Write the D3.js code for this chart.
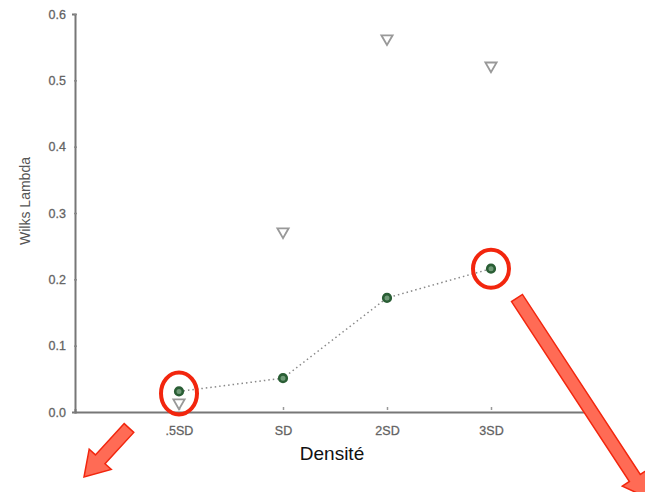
<!DOCTYPE html>
<html>
<head>
<meta charset="utf-8">
<script src="https://cdn.jsdelivr.net/npm/d3@7"></script>
<style>
  body { margin: 0; background: #fff; }
  svg { display: block; font-family: "Liberation Sans", Arial, sans-serif; }
</style>
</head>
<body>
<svg id="chart" width="645" height="492"></svg>
<script>
// data
const categories = [".5SD", "SD", "2SD", "3SD"];
const circleVals = [0.031, 0.051, 0.172, 0.216];
const triangleVals = [0.014, 0.272, 0.563, 0.522];
const yTicks = [0, 0.1, 0.2, 0.3, 0.4, 0.5, 0.6];
const highlighted = [0, 3];

// layout
const margin = {top: 14, right: 50, bottom: 80, left: 75};
const svg = d3.select("#chart");

const x = d3.scaleLinear().domain([0, 5]).range([margin.left, 595]);
const y = d3.scaleLinear().domain([0, 0.6]).range([412, 14]);

// y axis
const yAxis = d3.axisLeft(y).tickValues(yTicks).tickFormat(d3.format(".1f")).tickSize(3).tickPadding(6);
const gy = svg.append("g").attr("transform", `translate(${margin.left},0)`).call(yAxis);
gy.select(".domain").attr("stroke", "#777").attr("stroke-width", 2);
gy.selectAll(".tick line").attr("stroke", "#888").attr("stroke-width", 1.5).attr("transform", "translate(2,0)");
gy.selectAll(".tick text").attr("fill", "#555").attr("stroke", "#777").attr("stroke-width", 0.3)
  .style("font-size", "12.5px").attr("x", -9);

// x axis
const xAxis = d3.axisBottom(x).tickValues([1, 2, 3, 4]).tickFormat(d => categories[d - 1]).tickSize(-3).tickPadding(12);
const gx = svg.append("g").attr("transform", `translate(0,${y(0)})`).call(xAxis);
gx.select(".domain").attr("stroke", "#777").attr("stroke-width", 2);
gx.selectAll(".tick line").attr("stroke", "#999").attr("stroke-width", 1.5).attr("transform", "translate(0,-2)");
gx.selectAll(".tick text").attr("fill", "#555").attr("stroke", "#777").attr("stroke-width", 0.3)
  .style("font-size", "12.5px").attr("dy", "0.9em");

// axis titles
svg.append("text").attr("x", 332).attr("y", 460).attr("text-anchor", "middle")
  .style("font-size", "19px").attr("fill", "#111").text("Densité");
svg.append("text").attr("transform", `translate(30,201) rotate(-90)`).attr("text-anchor", "middle")
  .style("font-size", "14px").attr("fill", "#555").text("Wilks Lambda");

// dotted line
const line = d3.line().x((d, i) => x(i + 1)).y(d => y(d));
svg.append("path").datum(circleVals).attr("d", line)
  .attr("fill", "none").attr("stroke", "#888").attr("stroke-width", 1.5).attr("stroke-dasharray", "1.5,3");

// triangles
const tri = d3.symbol().type(d3.symbolTriangle).size(55);
svg.selectAll(".tri").data(triangleVals).join("path").attr("class", "tri")
  .attr("d", tri)
  .attr("transform", (d, i) => `translate(${x(i + 1)},${y(d)}) rotate(180)`)
  .attr("fill", "#fff").attr("stroke", "#999").attr("stroke-width", 1.8);

// circles
svg.selectAll(".pt").data(circleVals).join("circle").attr("class", "pt")
  .attr("cx", (d, i) => x(i + 1)).attr("cy", d => y(d)).attr("r", 3.8)
  .attr("fill", "#6f9a77").attr("stroke", "#2a5e35").attr("stroke-width", 2.6);

// highlight ellipses
svg.selectAll(".hl").data(highlighted).join("ellipse").attr("class", "hl")
  .attr("cx", i => x(i + 1)).attr("cy", i => y(circleVals[i]) + (i === 0 ? 2 : 0))
  .attr("rx", 18).attr("ry", i => i === 0 ? 21 : 19)
  .attr("fill", "none").attr("stroke", "#f2260e").attr("stroke-width", 4);

// arrows (annotation)
function arrow(x1, y1, x2, y2) {
  const dx = x2 - x1, dy = y2 - y1, L = Math.hypot(dx, dy);
  const ux = dx / L, uy = dy / L, nx = -uy, ny = ux;
  const sw = 6.5, hw = 15, hl = 24;
  const bx = x2 - ux * hl, by = y2 - uy * hl;
  const pts = [
    [x1 + nx * sw, y1 + ny * sw], [bx + nx * sw, by + ny * sw], [bx + nx * hw, by + ny * hw],
    [x2, y2], [bx - nx * hw, by - ny * hw], [bx - nx * sw, by - ny * sw], [x1 - nx * sw, y1 - ny * sw]
  ];
  svg.append("polygon").attr("points", pts.map(p => p.join(",")).join(" "))
    .attr("fill", "#ff6b55").attr("stroke", "#f2260e").attr("stroke-width", 1.5).attr("stroke-linejoin", "miter");
}
arrow(129, 428, 84, 477);
arrow(517, 298, 648, 498);
</script>
</body>
</html>
